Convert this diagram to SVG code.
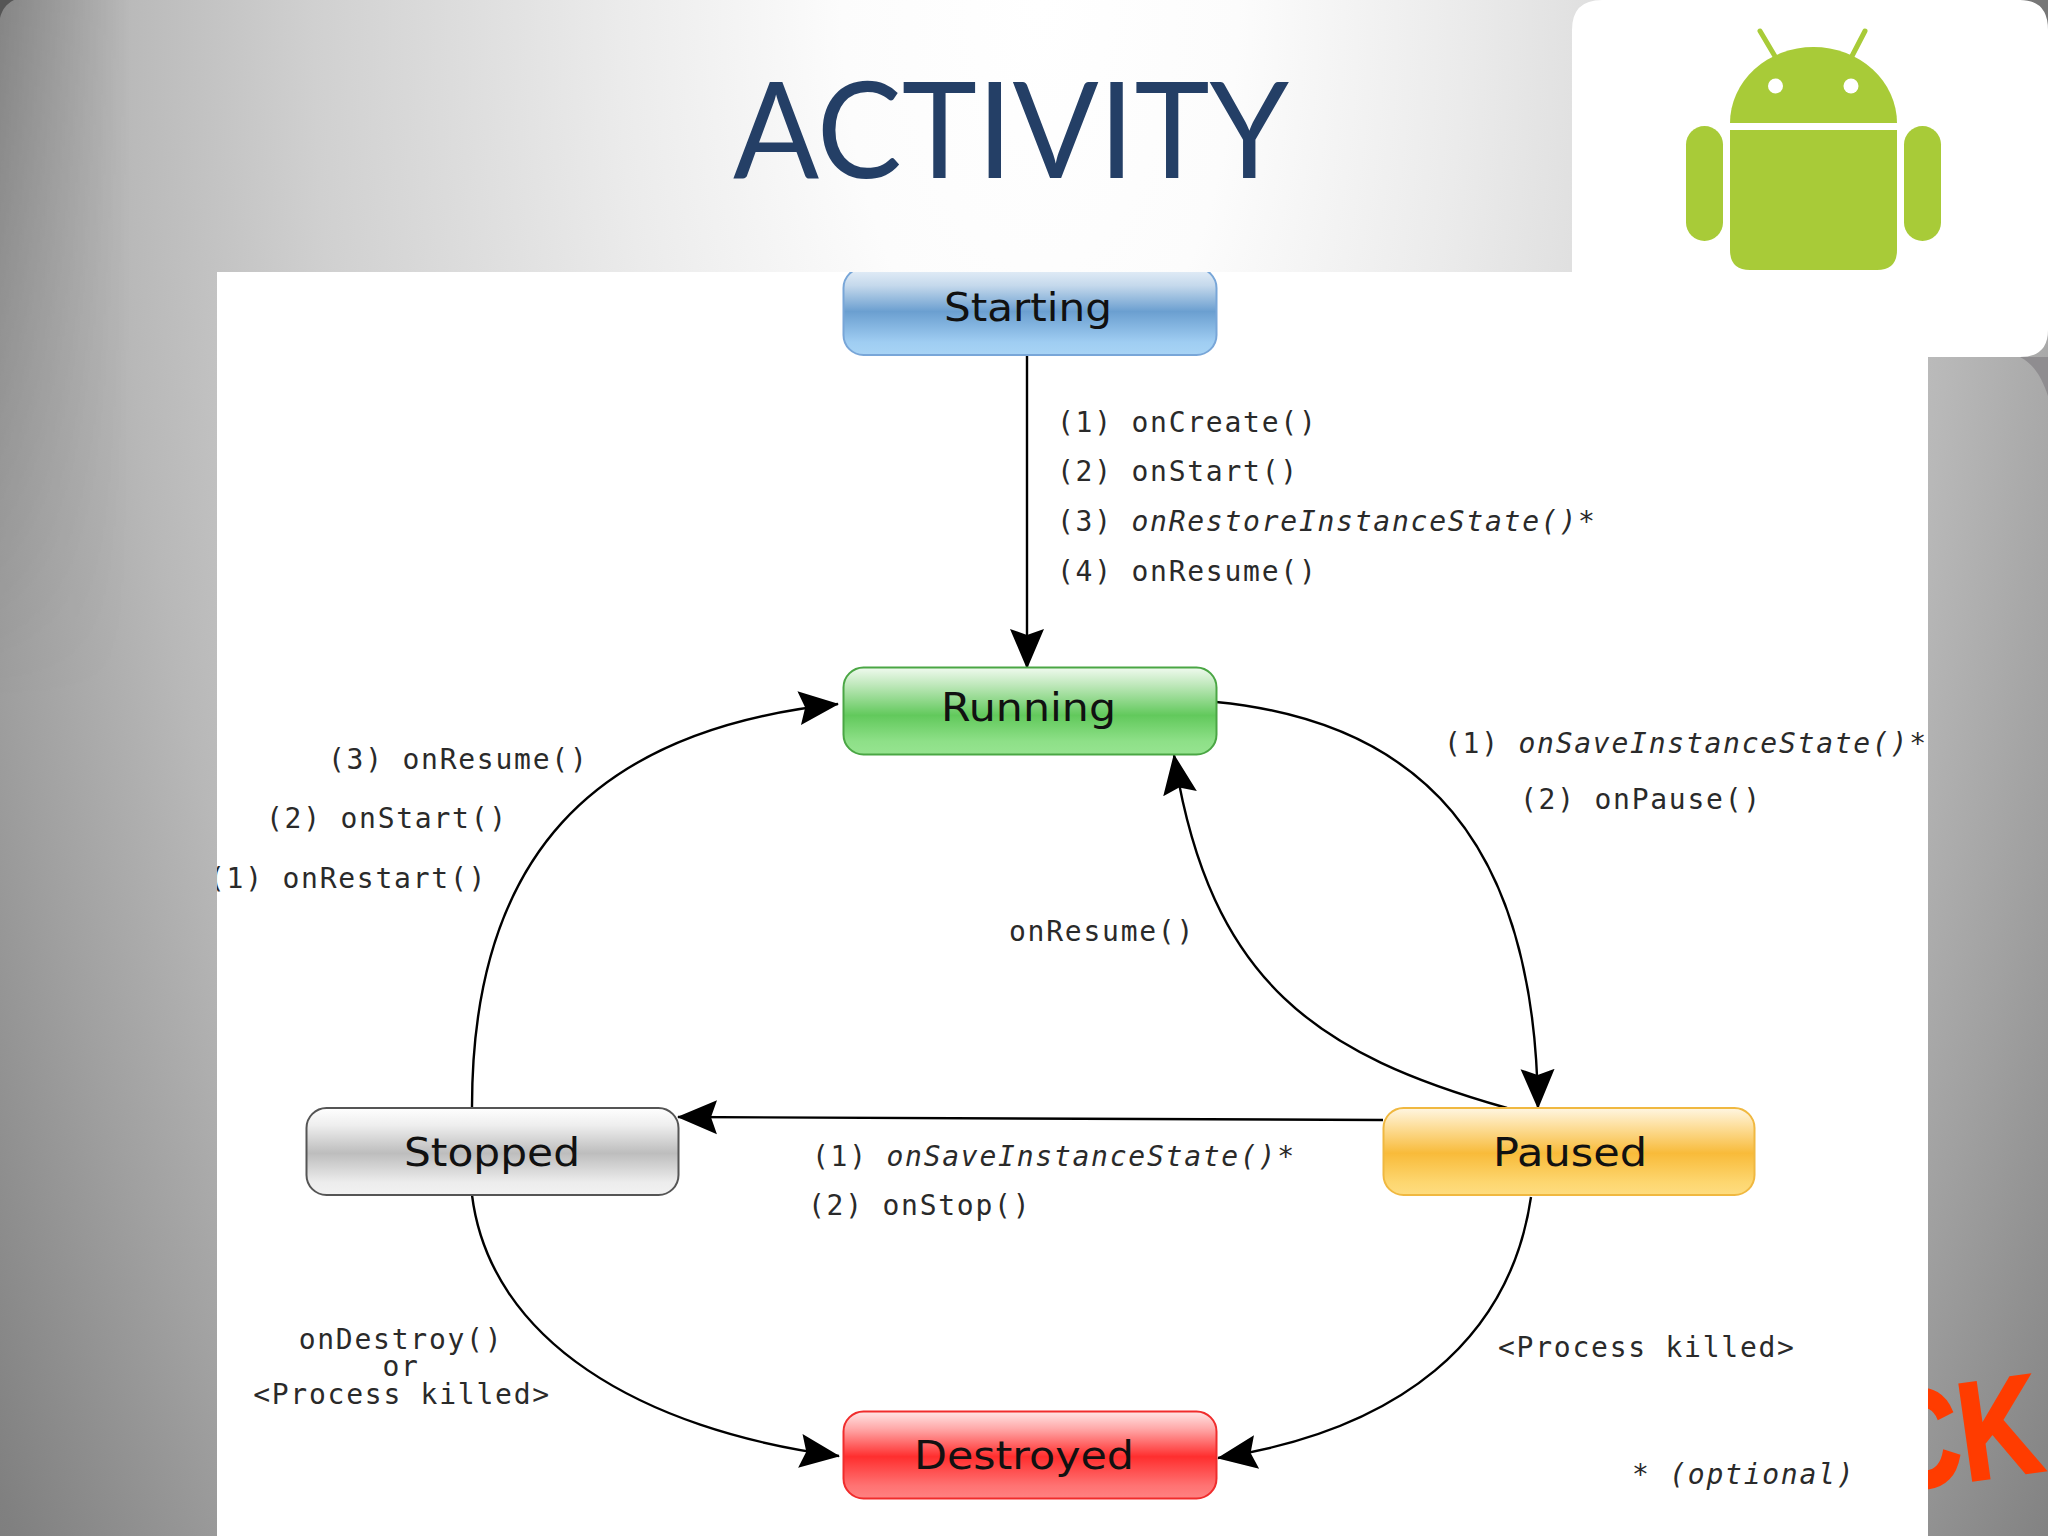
<svg xmlns="http://www.w3.org/2000/svg" width="2048" height="1536" viewBox="0 0 2048 1536">
<style>
.lbl{font-family:"DejaVu Sans Mono","Liberation Mono",monospace;font-size:28px;letter-spacing:1.75px;fill:#2a2a2a}
.it{font-style:italic}
.nm{font-family:"DejaVu Sans","Liberation Sans",sans-serif;font-size:39px;fill:#111}
.edge{fill:none;stroke:#000;stroke-width:2.4;marker-end:url(#ah)}
.box{stroke-width:2}
</style>
<defs>
<radialGradient id="bg" gradientUnits="userSpaceOnUse" cx="0" cy="0" r="1" gradientTransform="translate(1040 0) scale(1320 2640)">
<stop offset="0" stop-color="#fff"/><stop offset=".15" stop-color="#fcfcfc"/><stop offset=".32" stop-color="#ebebeb"/><stop offset=".55" stop-color="#d0d0d0"/><stop offset=".7" stop-color="#b8b8b8"/><stop offset=".82" stop-color="#a0a0a0"/><stop offset=".97" stop-color="#808080"/><stop offset="1.000" stop-color="#7c7c7c"/>
</radialGradient>
<linearGradient id="edgeShade" gradientUnits="userSpaceOnUse" x1="0" y1="0" x2="130" y2="0"><stop offset="0" stop-color="#000" stop-opacity=".2"/><stop offset="1" stop-color="#000" stop-opacity="0"/></linearGradient>
<linearGradient id="edgeFade" gradientUnits="userSpaceOnUse" x1="0" y1="0" x2="0" y2="700"><stop offset="0" stop-color="#fff"/><stop offset="1" stop-color="#000"/></linearGradient>
<mask id="edgeMask"><rect width="130" height="700" fill="url(#edgeFade)"/></mask>
<linearGradient id="gBlue" x1="0" y1="0" x2="0" y2="1"><stop offset="0" stop-color="#e6eff8"/><stop offset=".2" stop-color="#c5d9ec"/><stop offset=".5" stop-color="#6b9fd0"/><stop offset=".85" stop-color="#9fcdf2"/><stop offset="1" stop-color="#a8d4f5"/></linearGradient>
<linearGradient id="gGreen" x1="0" y1="0" x2="0" y2="1"><stop offset="0" stop-color="#f0faef"/><stop offset=".2" stop-color="#bfe8bb"/><stop offset=".55" stop-color="#62c95c"/><stop offset=".85" stop-color="#8ee088"/><stop offset="1" stop-color="#96e490"/></linearGradient>
<linearGradient id="gGrey" x1="0" y1="0" x2="0" y2="1"><stop offset="0" stop-color="#fff"/><stop offset=".2" stop-color="#eee"/><stop offset=".52" stop-color="#bdbdbd"/><stop offset=".85" stop-color="#ececec"/><stop offset="1" stop-color="#f2f2f2"/></linearGradient>
<linearGradient id="gYellow" x1="0" y1="0" x2="0" y2="1"><stop offset="0" stop-color="#fff6e2"/><stop offset=".2" stop-color="#fde0a0"/><stop offset=".52" stop-color="#f8bb3a"/><stop offset=".85" stop-color="#fdd66f"/><stop offset="1" stop-color="#fedd80"/></linearGradient>
<linearGradient id="gRed" x1="0" y1="0" x2="0" y2="1"><stop offset="0" stop-color="#ffe6e6"/><stop offset=".2" stop-color="#ffa8a8"/><stop offset=".52" stop-color="#ff2e2e"/><stop offset=".85" stop-color="#ff7272"/><stop offset="1" stop-color="#ff8282"/></linearGradient>
<marker id="ah" markerUnits="userSpaceOnUse" markerWidth="44" markerHeight="40" refX="39" refY="20" orient="auto" viewBox="0 0 44 40">
<path d="M0,3 L40,20 L0,37 L6,20 Z" fill="#000"/>
</marker>
<clipPath id="panelClip"><rect x="217" y="272" width="1711" height="1264"/></clipPath>
</defs>

<rect id="background" width="2048" height="1536" fill="url(#bg)"/>
<rect width="130" height="700" fill="url(#edgeShade)" mask="url(#edgeMask)"/>
<path d="M0,0H14C6,4 2,10 0,18Z" fill="#555"/>
<path d="M2015,0H2048V30C2040,14 2030,4 2015,0Z" fill="#777"/>
<path d="M2020,357H2048V396C2042,378 2034,364 2020,357Z" fill="#8f8d90"/>
<text id="corner-text" x="1884" y="1470" transform="rotate(-8 2046 1470)" textLength="162" lengthAdjust="spacingAndGlyphs" font-family="'Liberation Sans',sans-serif" font-weight="bold" font-size="140" fill="#ff3c00" stroke="#ff3c00" stroke-width="3">CK</text>

<text id="title" x="733" y="178" textLength="556" lengthAdjust="spacingAndGlyphs" font-family="Lato,'Open Sans',sans-serif" font-size="134" fill="#243f66">ACTIVITY</text>

<path id="panel" d="M217,272H1572V30Q1572,0 1602,0H2020Q2048,0 2048,30V330Q2048,357 2020,357H1928V1536H217Z" fill="#fff"/>

<g id="logo" fill="#a8cb38">
<path d="M1730,123A83.500,76 0 0 1 1897,123Z"/>
<path d="M1730,130H1897V250Q1897,270 1877,270H1750Q1730,270 1730,250Z"/>
<rect x="1686" y="126" width="37" height="115" rx="18.500"/>
<rect x="1904" y="126" width="37" height="115" rx="18.500"/>
<path d="M1760,31L1776,58M1865,31L1851,58" stroke="#a8cb38" stroke-width="5" stroke-linecap="round" fill="none"/>
<circle cx="1775.500" cy="86" r="7.500" fill="#fff"/>
<circle cx="1851" cy="86" r="7.500" fill="#fff"/>
</g>

<g id="connectors">
<path class="edge" d="M1027,355V668"/>
<path class="edge" d="M1216,702C1420,722 1535,840 1538,1108"/>
<path class="edge" d="M1507,1108C1320,1055 1210,985 1174,755"/>
<path class="edge" d="M1383,1120L678,1117"/>
<path class="edge" d="M472,1107C472,860 590,730 838,704"/>
<path class="edge" d="M472,1195C490,1340 640,1430 839,1456"/>
<path class="edge" d="M1531,1197C1510,1340 1400,1430 1218,1458"/>
</g>

<g id="node-starting" clip-path="url(#panelClip)">
<rect class="box" x="843.500" y="268" width="373" height="87" rx="20" fill="url(#gBlue)" stroke="#78a6d8"/>
<text class="nm" x="944" y="321" textLength="168" lengthAdjust="spacingAndGlyphs">Starting</text>
</g>
<g id="node-running">
<rect class="box" x="843.500" y="667.500" width="373" height="87" rx="20" fill="url(#gGreen)" stroke="#4aa644"/>
<text class="nm" x="941" y="721" textLength="175" lengthAdjust="spacingAndGlyphs">Running</text>
</g>
<g id="node-stopped">
<rect class="box" x="306.500" y="1108" width="372" height="87" rx="20" fill="url(#gGrey)" stroke="#555"/>
<text class="nm" x="404" y="1166" textLength="176" lengthAdjust="spacingAndGlyphs">Stopped</text>
</g>
<g id="node-paused">
<rect class="box" x="1383.500" y="1108" width="371" height="87" rx="20" fill="url(#gYellow)" stroke="#f0b840"/>
<text class="nm" x="1493" y="1166" textLength="154" lengthAdjust="spacingAndGlyphs">Paused</text>
</g>
<g id="node-destroyed">
<rect class="box" x="843.500" y="1411.500" width="373" height="87" rx="20" fill="url(#gRed)" stroke="#f02c2c"/>
<text class="nm" x="914" y="1469" textLength="220" lengthAdjust="spacingAndGlyphs">Destroyed</text>
</g>

<g id="labels" clip-path="url(#panelClip)">
<text class="lbl" x="1057" y="432">(1) onCreate()</text>
<text class="lbl" x="1057" y="481">(2) onStart()</text>
<text class="lbl" x="1057" y="531">(3) <tspan class="it">onRestoreInstanceState()*</tspan></text>
<text class="lbl" x="1057" y="581">(4) onResume()</text>
<text class="lbl" x="328" y="769">(3) onResume()</text>
<text class="lbl" x="266" y="828">(2) onStart()</text>
<text class="lbl" x="208" y="888">(1) onRestart()</text>
<text class="lbl" x="1444" y="753">(1) <tspan class="it">onSaveInstanceState()*</tspan></text>
<text class="lbl" x="1520" y="809">(2) onPause()</text>
<text class="lbl" x="1009" y="941">onResume()</text>
<text class="lbl" x="812" y="1166">(1) <tspan class="it">onSaveInstanceState()*</tspan></text>
<text class="lbl" x="808" y="1215">(2) onStop()</text>
<text class="lbl" x="401" y="1349" text-anchor="middle">onDestroy()</text>
<text class="lbl" x="401" y="1376" text-anchor="middle">or</text>
<text class="lbl" x="402" y="1404" text-anchor="middle">&lt;Process killed&gt;</text>
<text class="lbl" x="1498" y="1357">&lt;Process killed&gt;</text>
<text class="lbl it" x="1632" y="1484">* (optional)</text>
</g>
</svg>
